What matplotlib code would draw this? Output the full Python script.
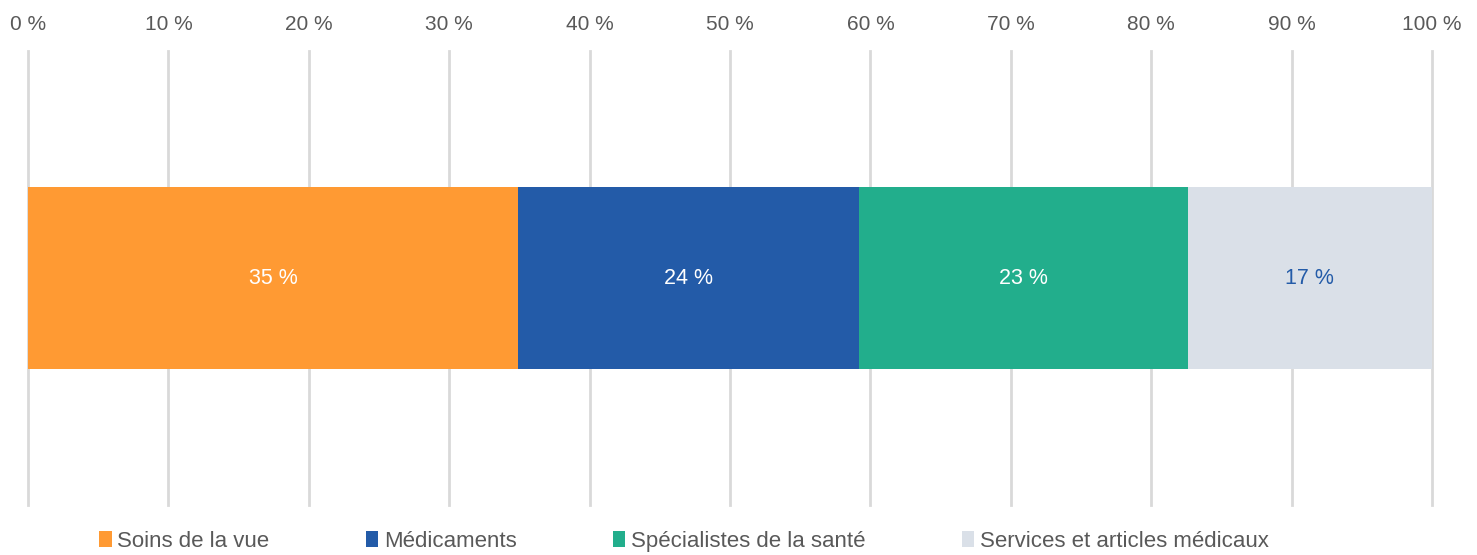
import matplotlib.pyplot as plt
import numpy as np

plt.rcParams['font.family'] = ['Liberation Sans', 'DejaVu Sans']

categories = ['Soins de la vue', 'Médicaments', 'Spécialistes de la santé',
              'Services et articles médicaux']
values = [34.9, 24.3, 23.4, 17.4]
labels = ['35 %', '24 %', '23 %', '17 %']
colors = ['#FF9A33', '#235BA8', '#22AE8C', '#DAE0E8']
label_colors = ['white', 'white', 'white', '#235BA8']

fig = plt.figure(figsize=(14.77, 5.55), dpi=100)
ax = fig.add_axes([0.019, 0.09, 0.9505, 0.818])

left = 0
for cat, val, lab, col, lcol in zip(categories, values, labels, colors, label_colors):
    ax.barh(0, val, left=left, height=0.4, color=col, label=cat, zorder=3)
    ax.text(left + val / 2, 0, lab, ha='center', va='center',
            fontsize=15.5, color=lcol, zorder=4)
    left += val

ax.set_xlim(0, 100)
ax.set_ylim(-0.5, 0.5)
ax.set_xticks(np.arange(0, 101, 10))
ax.set_xticklabels([f'{t} %' for t in range(0, 101, 10)])
ax.xaxis.tick_top()
ax.tick_params(axis='x', length=0, pad=12, labelsize=15, labelcolor='#595959')
ax.set_yticks([])
ax.grid(axis='x', color='#D9D9D9', linewidth=2, zorder=0)
for gl in ax.get_xgridlines():
    gl.set_clip_on(False)
for s in ax.spines.values():
    s.set_visible(False)

leg = ax.legend(loc='upper left', bbox_to_anchor=(0.0445, -0.037), ncol=4,
                frameon=False, fontsize=16, handlelength=0.55, handleheight=0.7,
                handletextpad=0.25, columnspacing=4.35, borderaxespad=0)
for t in leg.get_texts():
    t.set_color('#595959')

fig.savefig('out.png', dpi=100)
